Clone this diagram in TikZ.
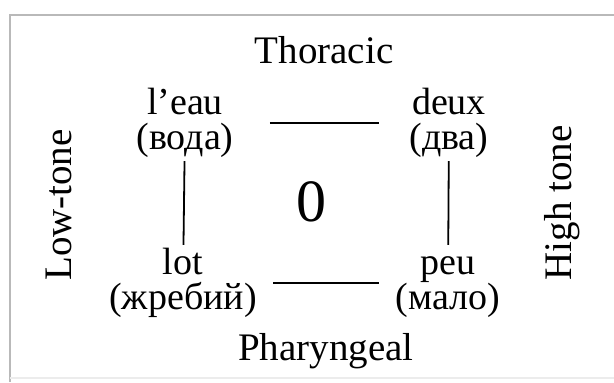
\documentclass[tikz,border=0pt]{standalone}
\usepackage{fontspec}
\setmainfont{Liberation Serif}
\begin{document}
\begin{tikzpicture}[x=0.5pt,y=-0.5pt,
  word/.style={align=center,inner sep=0pt,font=\fontsize{19}{17.5}\selectfont},
  side/.style={inner sep=0pt,font=\fontsize{19.5}{20}\selectfont},
  link/.style={line width=0.9pt}]
  \useasboundingbox (0,0) rectangle (614,382);
  % frame
  \draw[gray!55,line width=1pt] (10,382) -- (10,15) -- (614,15);
  \draw[gray!15,line width=0.8pt] (10,378) -- (614,378);
  % axis labels
  \node[side,anchor=base] (thor) at (324,63) {Thoracic};
  \node[side,anchor=base] (phar) at (326,360) {Pharyngeal};
  \node[side,rotate=90] (low) at (59,205) {Low-tone};
  \node[side,rotate=90] (high) at (562,203) {High tone};
  % corners
  \node[word] (leau) at (185,123) {l'eau\\(вода)};
  \node[word] (deux) at (449,123) {deux\\(два)};
  \node[word] (lot) at (183,283) {lot\\(жребий)};
  \node[word] (peu) at (448,283) {\vphantom{l}peu\\(мало)};
  \node[font=\fontsize{30}{30}\selectfont] (zero) at (311,202) {0};
  \draw[link,shorten <=18pt,shorten >=15pt] (leau) -- (deux);
  \draw[link,shorten <=8pt,shorten >=8pt] (lot) -- (peu);
  \draw[link,shorten <=1.5pt,shorten >=1.5pt] (leau) -- (lot);
  \draw[link,shorten <=1.5pt,shorten >=1.5pt] (deux) -- (peu);
\end{tikzpicture}
\end{document}
